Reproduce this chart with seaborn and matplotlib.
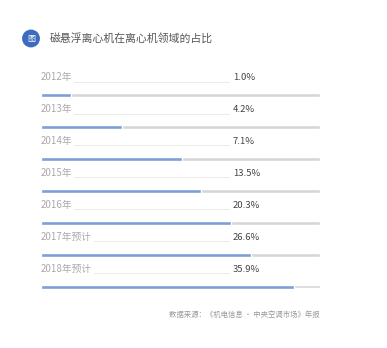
import matplotlib
matplotlib.use('Agg')
import matplotlib.pyplot as plt
import seaborn as sns
import numpy as np
import pandas as pd

# 数据
years = ['2012年', '2013年', '2014年', '2015年', '2016年', '2017年预计', '2018年预计']
share = ['1.0%', '4.2%', '7.1%', '13.5%', '20.3%', '26.6%', '35.9%']
# bar fill as drawn in the infographic (not linear in the share values)
fill = [0.106, 0.292, 0.506, 0.574, 0.682, 0.751, 0.906]

title = '磁悬浮离心机在离心机领域的占比'
source = '数据来源：《机电信息 • 中央空调市场》年报'

sns.set_theme(style='white')
plt.rcParams['font.family'] = ['Noto Sans CJK SC', 'DejaVu Sans']

W, H = 387, 348
fig = plt.figure(figsize=(W / 100, H / 100), dpi=100)
fig.patch.set_facecolor('white')

def fx(px):
    return px / W

def fy(py):
    return 1 - py / H

# title with icon
fig.text(fx(31), fy(38.5), '图', color='white', fontsize=5.8, ha='center', va='center',
         bbox=dict(boxstyle='circle,pad=0.55', fc='#3c6cbf', ec='none'))
fig.text(fx(50), fy(38.5), title, color='#555555', fontsize=7.8, ha='left', va='center')

df = pd.DataFrame({'year': years, 'fill': fill, 'track': np.ones(len(years))})

ax = fig.add_axes([fx(41), fy(302.7), fx(320) - fx(41), (302.7 - 69.4) / H])
sns.barplot(data=df, x='track', y='year', orient='h', color='#d6d6d6', width=0.11,
            saturation=1, ax=ax)
sns.barplot(data=df, x='fill', y='year', orient='h', color='#7b9fd6', width=0.12,
            saturation=1, ax=ax)

for i, (lab, val) in enumerate(zip(years, share)):
    ax.plot([0, 0.675], [i - 0.42, i - 0.42], color='#ebebeb', lw=0.7, zorder=1)
    ax.text(0, i - 0.56, lab, color='#aaaaaa', fontsize=7, ha='left', va='center', zorder=3,
            bbox=dict(fc='white', ec='none', pad=1.2))
    ax.text(0.687, i - 0.54, val, color='#444444', fontsize=6.8, ha='left', va='center', zorder=3)

ax.set_xlim(0, 1)
ax.set_ylim(6.5, -0.8)
ax.axis('off')

fig.text(fx(320), fy(315), source, color='#999999', fontsize=5.3, ha='right', va='center')

fig.savefig('out.png', dpi=100, facecolor='white')
